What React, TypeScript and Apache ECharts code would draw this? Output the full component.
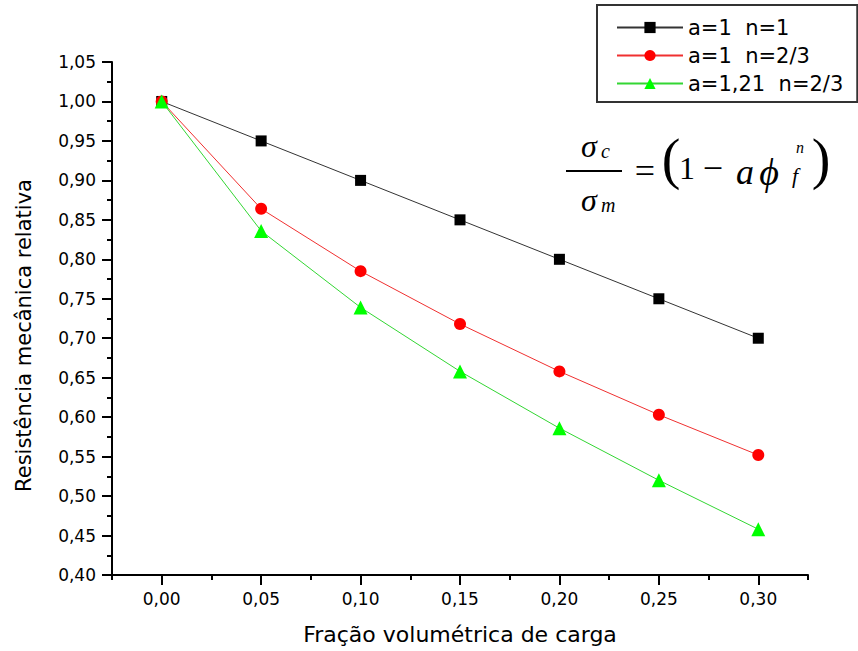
import React, { useEffect, useRef } from 'react';
import * as echarts from 'echarts';

const xValues = [0, 0.05, 0.1, 0.15, 0.2, 0.25, 0.3];
const seriesNames = ['a=1  n=1', 'a=1  n=2/3', 'a=1,21  n=2/3'];
const blackValues = [1.0, 0.95, 0.9, 0.85, 0.8, 0.75, 0.7];
const redValues = [1.0, 0.864, 0.785, 0.718, 0.658, 0.603, 0.552];
const greenValues = [1.0, 0.836, 0.739, 0.658, 0.586, 0.52, 0.458];
const xMajorTicks = [0, 0.05, 0.1, 0.15, 0.2, 0.25, 0.3];
const xMinorTicks = [-0.025, 0.025, 0.075, 0.125, 0.175, 0.225, 0.275, 0.325];
const xTitle = 'Fração volumétrica de carga';
const yTitle = 'Resistência mecânica relativa';

const FONT = "'DejaVu Sans', 'Liberation Sans', Arial, sans-serif";
const SERIF = "'Liberation Serif', 'DejaVu Serif', 'Times New Roman', serif";

const fmt = (v: number) => v.toFixed(2).replace('.', ',');

function txt(text: string, x: number, y: number, size: number, italic: boolean, align: string = 'center', family: string = SERIF) {
  return {
    type: 'text',
    x,
    y,
    z: 100,
    style: {
      text,
      fontFamily: family,
      fontSize: size,
      fontStyle: italic ? 'italic' : 'normal',
      fill: '#000',
      align,
      verticalAlign: 'middle',
    },
  };
}

export default function App() {
  const ref = useRef<HTMLDivElement>(null);
  useEffect(() => {
    if (!ref.current) return;
    const chart = echarts.init(ref.current, undefined, { renderer: 'svg' });
    const pair = (vals: number[]) => xValues.map((x, i) => [x, vals[i]]);
    chart.setOption({
      animation: false,
      backgroundColor: '#fff',
      grid: { left: 112, right: 50, top: 62, bottom: 76, containLabel: false },
      legend: {
        orient: 'vertical',
        left: 597,
        top: 5,
        padding: [12, 14, 8, 19],
        itemGap: 7,
        itemWidth: 66,
        itemHeight: 14,
        borderColor: '#333',
        borderWidth: 2,
        borderRadius: 0,
        textStyle: { fontFamily: FONT, fontSize: 21, color: '#000', lineHeight: 21 },
        data: seriesNames,
      },
      xAxis: [
        {
          type: 'value',
          min: -0.025,
          max: 0.325,
          position: 'bottom',
          name: xTitle,
          nameLocation: 'middle',
          nameGap: 48,
          nameTextStyle: { fontFamily: FONT, fontSize: 22, color: '#000' },
          axisLine: { show: true, onZero: false, lineStyle: { color: '#000', width: 2 } },
          axisTick: { show: true, length: 10, lineStyle: { color: '#000', width: 2 }, customValues: xMajorTicks },
          axisLabel: { show: true, margin: 15, fontFamily: FONT, fontSize: 17, color: '#000', formatter: (v: number) => fmt(v), customValues: xMajorTicks },
          splitLine: { show: false },
        },
        {
          type: 'value',
          min: -0.025,
          max: 0.325,
          position: 'bottom',
          axisLine: { show: false },
          axisTick: { show: true, length: 5, lineStyle: { color: '#000', width: 2 }, customValues: xMinorTicks },
          axisLabel: { show: false },
          splitLine: { show: false },
        },
      ],
      yAxis: {
        type: 'value',
        min: 0.4,
        max: 1.05,
        interval: 0.05,
        name: yTitle,
        nameLocation: 'middle',
        nameGap: 78,
        nameTextStyle: { fontFamily: FONT, fontSize: 21, color: '#000', padding: [0, 34, 0, 0] },
        axisLine: { show: true, onZero: false, lineStyle: { color: '#000', width: 2 } },
        axisTick: { show: true, length: 10, lineStyle: { color: '#000', width: 2 } },
        minorTick: { show: true, splitNumber: 2, length: 5, lineStyle: { color: '#000', width: 2 } },
        axisLabel: { margin: 16, fontFamily: FONT, fontSize: 17, color: '#000', formatter: (v: number) => fmt(v) },
        splitLine: { show: false },
      },
      series: [
        {
          name: seriesNames[0],
          type: 'line',
          data: pair(blackValues),
          symbol: 'rect',
          symbolSize: 11,
          itemStyle: { color: '#000' },
          lineStyle: { color: '#333', width: 1 },
        },
        {
          name: seriesNames[1],
          type: 'line',
          data: pair(redValues),
          symbol: 'circle',
          symbolSize: 12,
          itemStyle: { color: '#ff0000' },
          lineStyle: { color: '#f03030', width: 1 },
        },
        {
          name: seriesNames[2],
          type: 'line',
          data: pair(greenValues),
          symbol: 'triangle',
          symbolSize: 14,
          itemStyle: { color: '#00ff00' },
          lineStyle: { color: '#33d633', width: 1 },
        },
      ],
      graphic: [
        txt('σ', 589, 146, 32, true),
        txt('c', 601, 151, 20, true, 'left'),
        { type: 'line', z: 100, shape: { x1: 566, y1: 171, x2: 622, y2: 171 }, style: { stroke: '#000', lineWidth: 2 } },
        txt('σ', 589, 200, 32, true),
        txt('m', 601, 205, 20, true, 'left'),
        txt('=', 645, 171, 36, false),
        txt('(', 671, 159, 56, false),
        txt('1', 687, 168, 32, false),
        txt('−', 713, 168, 36, false),
        txt('a', 745, 172, 36, true),
        txt('\u03D5', 769, 172, 38, true, 'center', "'Liberation Serif', 'DejaVu Serif', serif"),
        txt('n', 800, 147, 16, true),
        txt('f', 795, 175, 22, true),
        txt(')', 821, 159, 56, false),
      ],
    });
    return () => chart.dispose();
  }, []);
  return <div ref={ref} style={{ position: 'fixed', left: 0, top: 0, width: 858, height: 651 }} />;
}
